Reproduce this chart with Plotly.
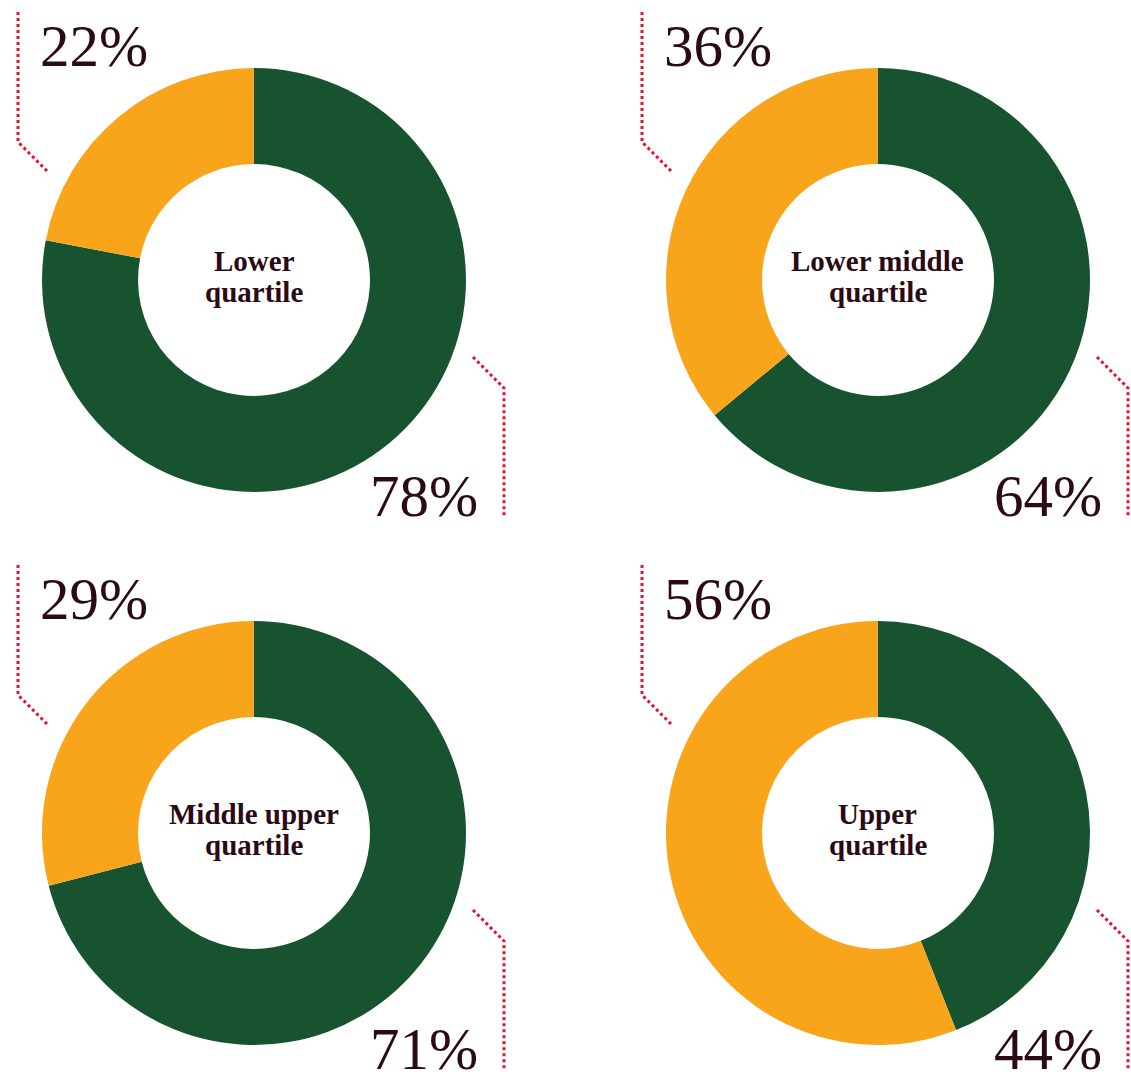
import plotly.graph_objects as go

W, H = 1131, 1075

# Data
quartile_line1 = ["Lower", "Lower middle", "Middle upper", "Upper"]
quartile_line2 = ["quartile", "quartile", "quartile", "quartile"]
green_share = [78, 64, 71, 44]
orange_share = [22, 36, 29, 56]

GREEN = "#17532f"
ORANGE = "#f8a51c"
TEXT = "#2b0a16"
RED = "#e8112d"

centres = [(254, 280), (878, 280), (254, 833), (878, 833)]
R = 212
HOLE = 0.547

def px(x):
    return x / W

def py(y):
    return 1 - y / H

fig = go.Figure()
shapes = []
annotations = []
centre_font = dict(family="Liberation Serif", size=29, color=TEXT, weight="bold")
pct_font = dict(family="Liberation Serif", size=59, color=TEXT)

for i, (cx, cy) in enumerate(centres):
    fig.add_trace(go.Pie(
        values=[green_share[i], orange_share[i]],
        labels=["Green", "Orange"],
        marker=dict(colors=[GREEN, ORANGE], line=dict(width=0)),
        hole=HOLE,
        sort=False,
        direction="clockwise",
        rotation=0,
        textinfo="none",
        hoverinfo="skip",
        showlegend=False,
        domain=dict(x=[px(cx - R), px(cx + R)], y=[py(cy + R), py(cy - R)]),
    ))
    # centre label (two lines)
    annotations.append(dict(
        x=px(cx), y=py(cy - 19), xref="paper", yref="paper",
        text=quartile_line1[i], showarrow=False, font=centre_font,
        xanchor="center", yanchor="middle",
    ))
    annotations.append(dict(
        x=px(cx), y=py(cy + 12), xref="paper", yref="paper",
        text=quartile_line2[i], showarrow=False, font=centre_font,
        xanchor="center", yanchor="middle",
    ))
    # top-left label (orange)
    annotations.append(dict(
        x=px(cx - 216), y=py(cy - 234), xref="paper", yref="paper",
        text=f"{orange_share[i]}%", showarrow=False, font=pct_font,
        xanchor="left", yanchor="middle",
    ))
    # bottom-right label (green)
    annotations.append(dict(
        x=px(cx + 226), y=py(cy + 216), xref="paper", yref="paper",
        text=f"{green_share[i]}%", showarrow=False, font=pct_font,
        xanchor="right", yanchor="middle",
    ))
    # leader lines
    line = dict(color=RED, width=3, dash="3px,3px")
    shapes.append(dict(type="path", xref="paper", yref="paper",
                       path=f"M {px(cx-236)},{py(cy-268)} L {px(cx-236)},{py(cy-138)} L {px(cx-206)},{py(cy-108)}",
                       line=line))
    shapes.append(dict(type="path", xref="paper", yref="paper",
                       path=f"M {px(cx+219)},{py(cy+77)} L {px(cx+250)},{py(cy+108)} L {px(cx+250)},{py(cy+238)}",
                       line=line))

fig.update_layout(
    width=W, height=H,
    margin=dict(l=0, r=0, t=0, b=0),
    paper_bgcolor="white", plot_bgcolor="white",
    shapes=shapes, annotations=annotations,
)

fig.write_html(
    "out.html",
    config={"displayModeBar": False},
    post_script="document.body.style.margin='0';document.body.style.overflow='hidden';",
)
